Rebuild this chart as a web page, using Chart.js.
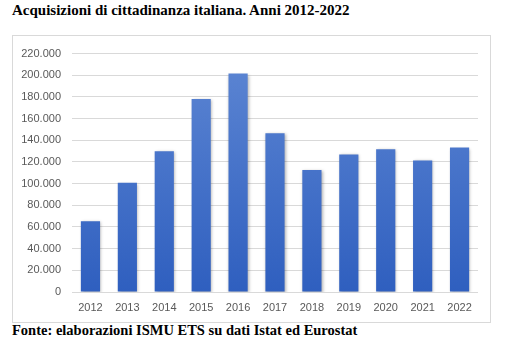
<!DOCTYPE html>
<html>
<head>
<meta charset="utf-8">
<script src="https://cdn.jsdelivr.net/npm/chart.js@4.4.1/dist/chart.umd.min.js"></script>
<style>
  body { margin: 0; width: 507px; height: 348px; background: #fff; position: relative; overflow: hidden; }
  .titolo { position: absolute; left: 12px; top: 2px; font: bold 15px "Liberation Serif", "DejaVu Serif", serif; color: #000; white-space: nowrap; }
  .fonte { position: absolute; left: 12px; top: 322px; font: bold 14.5px "Liberation Serif", "DejaVu Serif", serif; color: #000; white-space: nowrap; }
  .box { position: absolute; left: 12px; top: 35px; width: 477px; height: 286px; border: 1px solid #d9d9d9; }
</style>
</head>
<body>
<div class="titolo">Acquisizioni di cittadinanza italiana. Anni 2012-2022</div>
<div class="box"><canvas id="myChart" width="477" height="286"></canvas></div>
<div class="fonte">Fonte: elaborazioni ISMU ETS su dati Istat ed Eurostat</div>
<script>
const anni = ['2012', '2013', '2014', '2015', '2016', '2017', '2018', '2019', '2020', '2021', '2022'];
const acquisizioni = [65383, 100712, 129887, 178035, 201591, 146605, 112523, 127001, 131803, 121457, 133236];

// numeri con il punto come separatore delle migliaia
function formatta(v) {
    return String(v).replace(/\B(?=(\d{3})+(?!\d))/g, '.');
}

// ombra leggera sotto le barre
const ombra = {
    id: 'ombra',
    beforeDatasetsDraw(chart) {
        const ctx = chart.ctx;
        ctx.save();
        ctx.shadowColor = 'rgba(0,0,0,0.3)';
        ctx.shadowBlur = 3;
        ctx.shadowOffsetX = 1;
        ctx.shadowOffsetY = 1;
    },
    afterDatasetsDraw(chart) {
        chart.ctx.restore();
    }
};

const ctx = document.getElementById('myChart');
new Chart(ctx, {
    type: 'bar',
    data: {
        labels: anni,
        datasets: [{
            data: acquisizioni,
            backgroundColor: function(context) {
                const area = context.chart.chartArea;
                if (!area) return '#4472c4';
                const g = context.chart.ctx.createLinearGradient(0, area.top, 0, area.bottom);
                g.addColorStop(0, '#5d86d3');
                g.addColorStop(1, '#2f5fbf');
                return g;
            },
            barPercentage: 0.52,
            categoryPercentage: 1
        }]
    },
    options: {
        responsive: false,
        animation: false,
        layout: { padding: { left: 0, right: 12, top: 14, bottom: 0 } },
        plugins: {
            legend: { display: false },
            tooltip: { enabled: false }
        },
        scales: {
            x: {
                grid: { display: false, drawTicks: false },
                border: { display: false },
                ticks: {
                    color: '#595959',
                    font: { family: 'Liberation Sans', size: 11 },
                    padding: 9
                },
                afterFit: function(scale) { scale.height = 30; }
            },
            y: {
                min: 0,
                max: 220000,
                grid: { color: '#d9d9d9', drawTicks: false },
                border: { display: false },
                ticks: {
                    stepSize: 20000,
                    color: '#595959',
                    font: { family: 'Liberation Sans', size: 11 },
                    padding: 11,
                    callback: function(v) { return formatta(v); }
                },
                afterFit: function(scale) { scale.width = 59; }
            }
        }
    },
    plugins: [ombra]
});
</script>
</body>
</html>
